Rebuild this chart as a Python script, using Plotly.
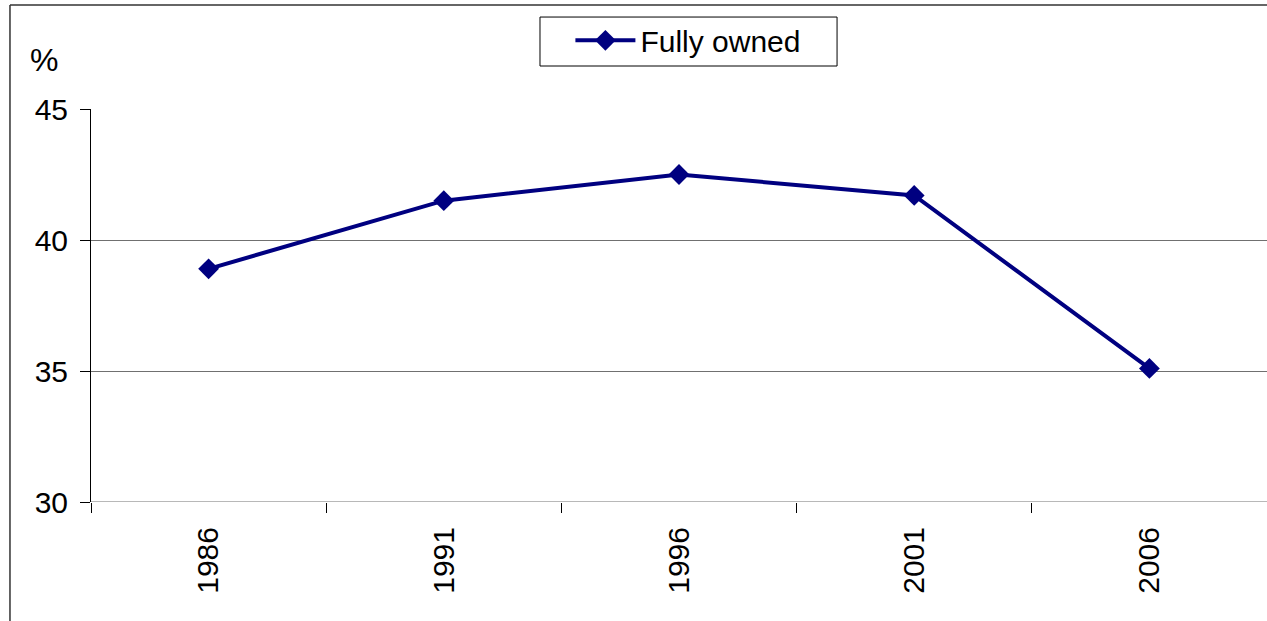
import plotly.graph_objects as go

years = ['1986', '1991', '1996', '2001', '2006']
fully_owned = [38.9, 41.5, 42.5, 41.7, 35.1]

fig = go.Figure()
fig.add_trace(go.Scatter(x=years, y=fully_owned, mode='lines+markers', name='Fully owned',
                         line=dict(color='#000080', width=4),
                         marker=dict(symbol='diamond', size=16, color='#000080')))

fig.update_layout(
    width=1267, height=621,
    margin=dict(l=91, r=0, t=109, b=119),
    paper_bgcolor='white', plot_bgcolor='white',
    font=dict(family='Liberation Sans, Arial', size=30, color='black'),
    showlegend=True,
    legend=dict(x=0.508, xanchor='center', y=1.241, yanchor='top',
                borderwidth=0, bgcolor='rgba(0,0,0,0)',
                itemwidth=60, font=dict(size=30)),
    xaxis=dict(type='category', tickson='boundaries', ticks='outside', ticklen=10,
               tickcolor='black', tickangle=-90, showgrid=False, showline=False,
               ticklabelstandoff=18, range=[-0.5, 4.5]),
    yaxis=dict(range=[30, 45], dtick=5, ticks='outside', ticklen=10, tickcolor='black',
               showgrid=True, gridcolor='#707070', gridwidth=1, zeroline=False,
               showline=True, linecolor='black', linewidth=1, ticklabelstandoff=6),
)
# frame of the chart area (clipped at right and bottom in the reference)
fig.add_shape(type='line', xref='paper', yref='paper', x0=-0.0689, x1=-0.0689, y0=-0.5, y1=1.2646,
              line=dict(color='#333333', width=1.5))
fig.add_shape(type='line', xref='paper', yref='paper', x0=-0.0689, x1=1.2, y0=1.2646, y1=1.2646,
              line=dict(color='#333333', width=1.5))
# legend box
fig.add_shape(type='rect', xref='paper', yref='paper', x0=0.3818, x1=0.6344, y0=1.1094, y1=1.234,
              line=dict(color='black', width=1))
fig.add_shape(type='line', xref='paper', yref='y', x0=0, x1=1, y0=30, y1=30,
              line=dict(color='#707070', width=1))
fig.add_annotation(text='%', xref='paper', yref='paper', x=-0.040, y=1.1247,
                   xanchor='center', yanchor='middle', showarrow=False,
                   font=dict(size=32))

# drop the default page margin so the figure fills the window
fig.write_html('out.html', config={'displayModeBar': False},
               post_script="document.body.style.margin='0';"
                           "document.documentElement.style.overflow='hidden';")
